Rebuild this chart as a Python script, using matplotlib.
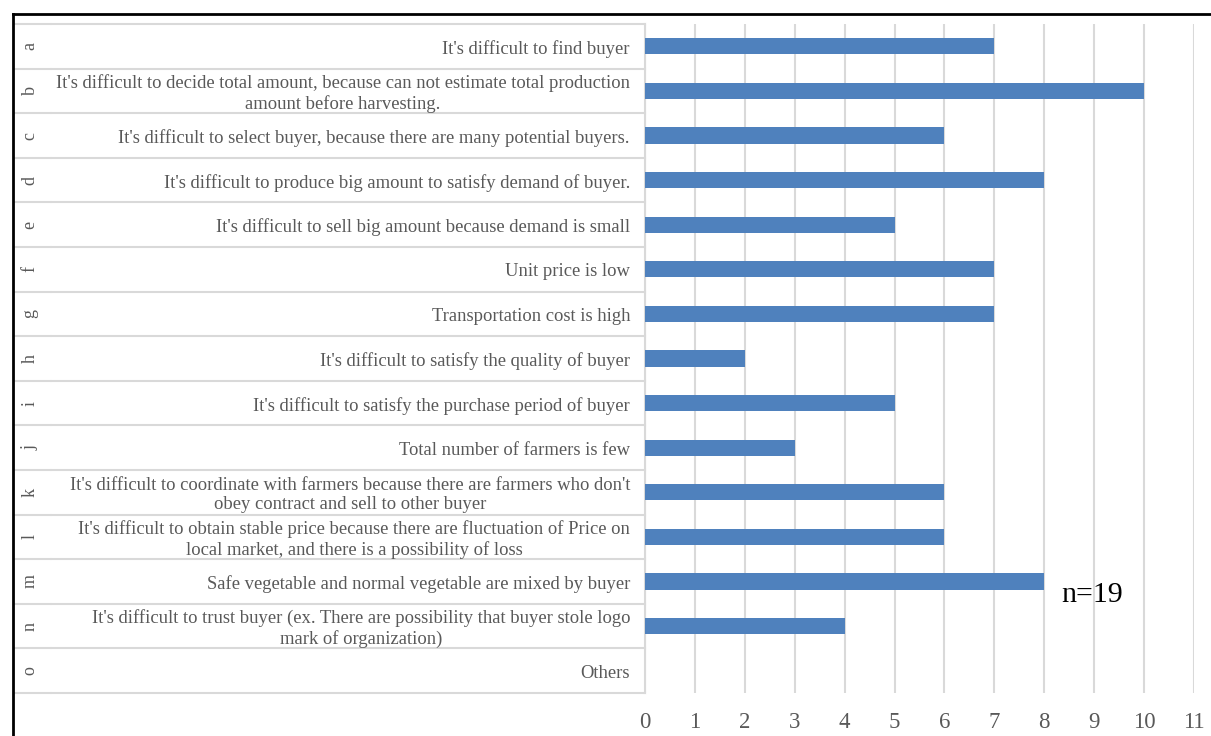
import matplotlib
matplotlib.use("Agg")
import matplotlib.pyplot as plt
from matplotlib.lines import Line2D
import matplotlib.transforms as mtransforms

letters = ["a", "b", "c", "d", "e", "f", "g", "h", "i", "j", "k", "l", "m", "n", "o"]
labels = [
    "It's difficult to find buyer",
    "It's difficult to decide total amount, because can not estimate total production\namount before harvesting.",
    "It's difficult to select buyer, because there are many potential buyers.",
    "It's difficult to produce big amount to satisfy demand of buyer.",
    "It's difficult to sell big amount because demand is small",
    "Unit price is low",
    "Transportation cost is high",
    "It's difficult to satisfy the quality of buyer",
    "It's difficult to satisfy the purchase period of buyer",
    "Total number of farmers is few",
    "It's difficult to coordinate with farmers because there are farmers who don't\nobey contract and sell to other buyer",
    "It's difficult to obtain stable price because there are fluctuation of Price on\nlocal market, and there is a possibility of loss",
    "Safe vegetable and normal vegetable are mixed by buyer",
    "It's difficult to trust buyer (ex. There are possibility that buyer stole logo\nmark of organization)",
    "Others",
]
values = [7, 10, 6, 8, 5, 7, 7, 2, 5, 3, 6, 6, 8, 4, 0]
xticks = list(range(0, 12))
note = "n=19"

plt.rcParams["font.family"] = ["Liberation Serif", "DejaVu Serif"]

W, H = 1211, 736
fig = plt.figure(figsize=(W / 100, H / 100), dpi=100)
ax_left, ax_right, ax_top, ax_bottom = 645, 1194, 24, 693
ax = fig.add_axes([ax_left / W, 1 - ax_bottom / H, (ax_right - ax_left) / W, (ax_bottom - ax_top) / H])

grid_c = "#D9D9D9"
text_c = "#595959"
ypos = list(range(len(values)))
ax.barh(ypos, values, height=0.36, color="#4F81BD", zorder=3)
ax.set_xlim(0, 11)
ax.set_ylim(len(values) - 0.5, -0.5)
ax.set_xticks(xticks)
ax.set_xticklabels([str(t) for t in xticks], fontsize=16.5, color=text_c)
ax.tick_params(axis="x", length=0, pad=14)
ax.set_yticks([])
ax.grid(axis="x", color=grid_c, linewidth=1.5, zorder=0)
for s in ["top", "right", "bottom"]:
    ax.spines[s].set_visible(False)
ax.spines["left"].set_color(grid_c)
ax.spines["left"].set_linewidth(1.5)

# Label table on the left
blend = mtransforms.blended_transform_factory(ax.transAxes, ax.transData)
text_shift = mtransforms.ScaledTranslation(0, -2.5 / 100, fig.dpi_scale_trans)
px = ax_right - ax_left
x_border = (14 - ax_left) / px
x_gap1 = (50 - ax_left) / px
x_gap2 = (52 - ax_left) / px
x_text = (630 - ax_left) / px
x_letter = (30 - ax_left) / px
for k in range(len(values) + 1):
    y = k - 0.5
    for xa, xb in [(x_border, x_gap1), (x_gap2, 0)]:
        ax.add_line(Line2D([xa, xb], [y, y], transform=blend, color=grid_c,
                           linewidth=1.5, clip_on=False))
for i, (lt, lb) in enumerate(zip(letters, labels)):
    ax.text(x_text, i, lb, transform=blend + text_shift, ha="right", va="center",
            multialignment="center", fontsize=13.4, color=text_c, linespacing=1.18)
    ax.text(x_letter, i, lt, transform=blend, ha="center", va="center",
            rotation=90, fontsize=13, color=text_c)

ax.text(8.34, 12.3, note, ha="left", va="center", fontsize=21.5, color="black")

# Outer border
fig.add_artist(Line2D([13 / W, 1], [1 - 14 / H, 1 - 14 / H], transform=fig.transFigure,
                      color="black", linewidth=2))
fig.add_artist(Line2D([13 / W, 13 / W], [0, 1 - 14 / H], transform=fig.transFigure,
                      color="black", linewidth=2))

fig.savefig("out.png", dpi=100)
